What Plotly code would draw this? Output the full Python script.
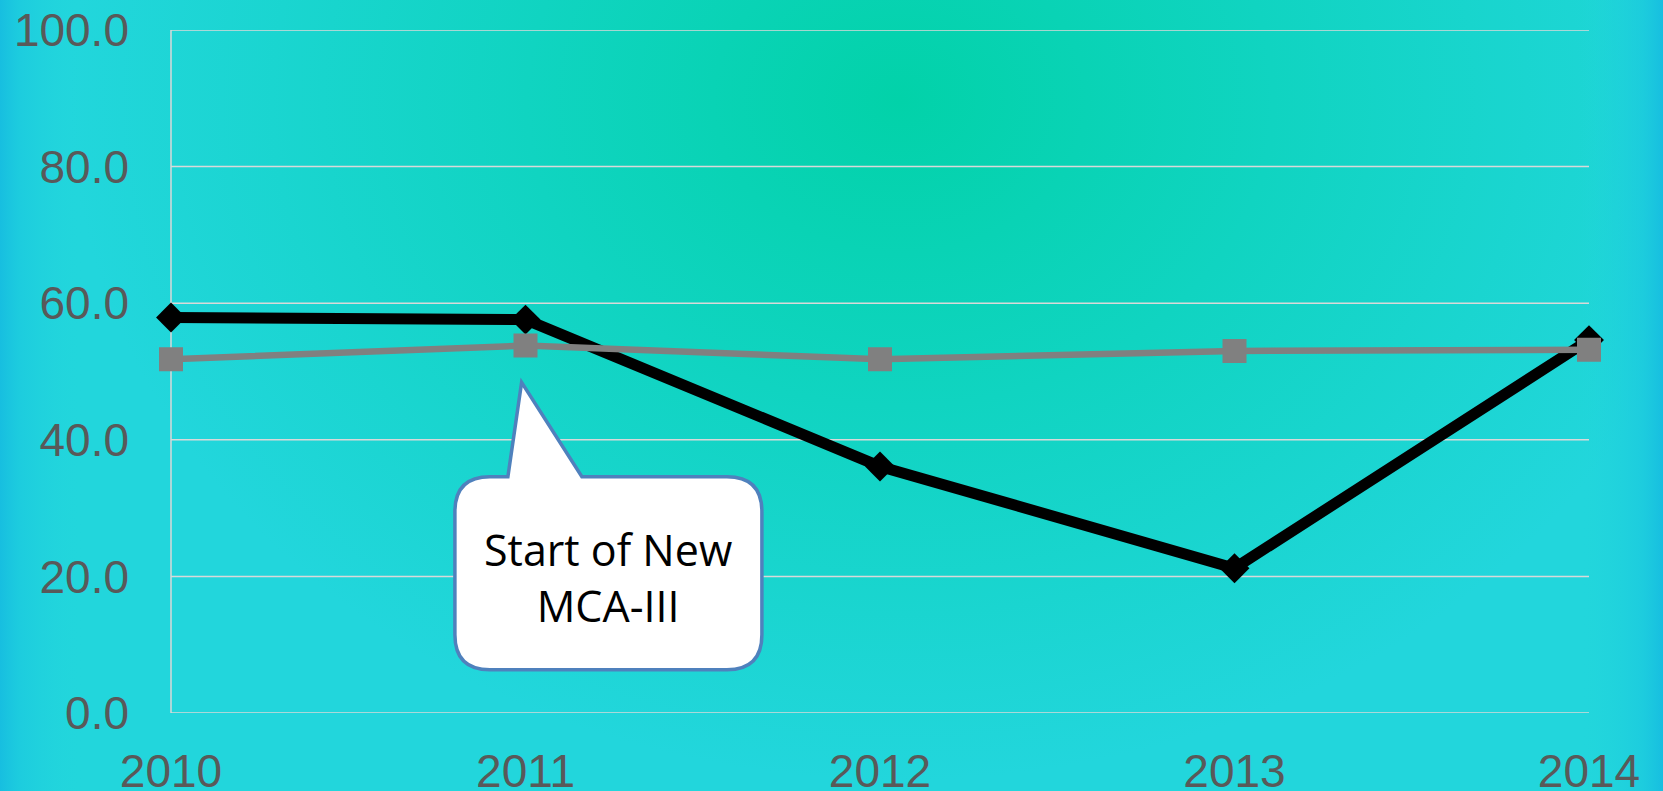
import base64
import plotly.graph_objects as go

# ---- data ----
years = [2010, 2011, 2012, 2013, 2014]
year_labels = ["2010", "2011", "2012", "2013", "2014"]
series_black = [57.9, 57.6, 36.1, 21.2, 54.6]
series_gray = [51.8, 53.8, 51.8, 53.0, 53.2]
y_ticks = [0, 20, 40, 60, 80, 100]
y_tick_labels = ["0.0", "20.0", "40.0", "60.0", "80.0", "100.0"]
callout_lines = ["Start of New", "MCA-III"]

W, H = 1663, 791
L, R, T, B = 171, 74, 30, 78
PW, PH = W - L - R, H - T - B

svg = f'''<svg xmlns="http://www.w3.org/2000/svg" width="{W}" height="{H}" viewBox="0 0 {W} {H}" preserveAspectRatio="none">
<defs>
<radialGradient id="g" gradientUnits="userSpaceOnUse" cx="900" cy="100" r="830" gradientTransform="translate(900 100) scale(1 0.82) translate(-900 -100)">
<stop offset="0" stop-color="#02D2A9"/>
<stop offset="0.45" stop-color="#10D4C1"/>
<stop offset="1" stop-color="#22D6DC"/>
</radialGradient>
<linearGradient id="e" x1="0" y1="0" x2="1" y2="0">
<stop offset="0" stop-color="#17BEE0" stop-opacity="1"/>
<stop offset="0.012" stop-color="#1BC8DF" stop-opacity="0.7"/>
<stop offset="0.05" stop-color="#22D6DC" stop-opacity="0"/>
<stop offset="0.95" stop-color="#22D6DC" stop-opacity="0"/>
<stop offset="0.988" stop-color="#1BC8DF" stop-opacity="0.7"/>
<stop offset="1" stop-color="#17BEE0" stop-opacity="1"/>
</linearGradient>
</defs>
<rect width="{W}" height="{H}" fill="url(#g)"/>
<rect width="{W}" height="{H}" fill="url(#e)"/>
</svg>'''
bg_uri = "data:image/svg+xml;base64," + base64.b64encode(svg.encode()).decode()

fig = go.Figure()
fig.add_trace(go.Scatter(
    x=years, y=series_black, mode="lines+markers",
    line=dict(color="#000000", width=11),
    marker=dict(symbol="diamond", size=23, color="#000000"),
    cliponaxis=False, showlegend=False, hoverinfo="x+y"))
fig.add_trace(go.Scatter(
    x=years, y=series_gray, mode="lines+markers",
    line=dict(color="#808080", width=6.5),
    marker=dict(symbol="square", size=22, color="#808080",
                line=dict(color="#808080", width=2)),
    cliponaxis=False, showlegend=False, hoverinfo="x+y"))

# horizontal gridlines and the left axis line, drawn as background shapes
for yv in y_ticks:
    fig.add_shape(type="line", xref="paper", yref="y", x0=0, x1=1, y0=yv, y1=yv,
                  line=dict(color="#D9D9D9", width=1.5), layer="below")
fig.add_shape(type="line", xref="paper", yref="y", x0=0, x1=0,
              y0=y_ticks[0], y1=y_ticks[-1],
              line=dict(color="#D9D9D9", width=1.5), layer="below")

# callout bubble (pixel-sized path anchored at the pointer tip)
lft, rgt, top, bot, rad = -66.7, 240.3, -94.3, -287.3, 35
b0, b1 = -13.7, 60.3
path = (f"M {lft+rad},{top} L {b0},{top} L 0,0 L {b1},{top} L {rgt-rad},{top} "
        f"Q {rgt},{top} {rgt},{top-rad} L {rgt},{bot+rad} Q {rgt},{bot} {rgt-rad},{bot} "
        f"L {lft+rad},{bot} Q {lft},{bot} {lft},{bot+rad} L {lft},{top-rad} "
        f"Q {lft},{top} {lft+rad},{top} Z")
fig.add_shape(type="path", xref="x", yref="y", xsizemode="pixel", ysizemode="pixel",
              xanchor=2010.989, yanchor=48.4, path=path,
              fillcolor="#FFFFFF", line=dict(color="#4F81BD", width=3.5), layer="above")
fig.add_annotation(x=2011.234, y=19.9, xref="x", yref="y",
                   text="<br>".join(callout_lines), showarrow=False,
                   font=dict(family="Open Sans", size=43, color="#000000"))

fig.update_layout(
    template="none",
    width=W, height=H,
    margin=dict(l=L, r=R, t=T, b=B, autoexpand=False),
    paper_bgcolor="rgba(0,0,0,0)", plot_bgcolor="rgba(0,0,0,0)",
    images=[dict(source=bg_uri, xref="paper", yref="paper",
                 x=-L / PW, y=1 + T / PH, sizex=W / PW, sizey=H / PH,
                 xanchor="left", yanchor="top", sizing="stretch", layer="below")],
    xaxis=dict(range=[2010, 2014], tickvals=years, ticktext=year_labels,
               showgrid=False, zeroline=False, showline=False, mirror=False,
               ticks="", ticklabelstandoff=27,
               tickfont=dict(family="Liberation Sans", size=46, color="#595959")),
    yaxis=dict(range=[0, 100], tickvals=y_ticks, ticktext=y_tick_labels,
               showgrid=False, zeroline=False, showline=False, mirror=False,
               ticks="", ticklabelstandoff=41,
               tickfont=dict(family="Liberation Sans", size=46, color="#595959")),
)

fig.write_html("out.html", config={"displayModeBar": False},
               post_script="document.body.style.margin='0';")
